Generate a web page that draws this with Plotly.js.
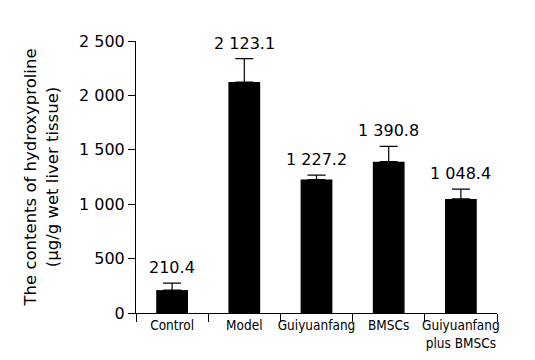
<!DOCTYPE html>
<html><head><meta charset="utf-8">
<script src="https://cdn.plot.ly/plotly-3.0.1.min.js"></script>
<style>html,body{margin:0;padding:0;background:#fff}#chart{width:535px;height:360px}</style>
</head><body><div id="chart"></div>
<script>
const categories = ["Control", "Model", "Guiyuanfang", "BMSCs", "Guiyuanfang<br>plus BMSCs"];
const values = [210.4, 2123.1, 1227.2, 1390.8, 1048.4];
const errors = [65, 215, 40, 140, 90];
const labels = ["210.4", "2 123.1", "1 227.2", "1 390.8", "1 048.4"];

const trace = {
  type: "bar", x: categories, y: values, width: 0.44,
  marker: {color: "#000"},
  error_y: {type: "data", array: errors, symmetric: false, arrayminus: errors.map(()=>0), color: "#000", thickness: 1.2, width: 9, visible: true}
};
const annotations = categories.map((c,i)=>({
  x: c, y: values[i] + errors[i], xref: "x", yref: "y", text: labels[i], showarrow: false,
  yanchor: "bottom", yshift: 4, font: {family: "DejaVu Sans", size: 16, color: "#000"}
}));
Plotly.newPlot("chart", [trace], {
  width: 535, height: 360, margin: {l: 136, r: 38, t: 41, b: 47},
  paper_bgcolor: "#fff", plot_bgcolor: "#fff", showlegend: false,
  separators: ". ",
  font: {family: "DejaVu Sans", color: "#000"},
  xaxis: {showline: true, linecolor: "#000", linewidth: 1, ticks: "outside", ticklen: 8, tickcolor: "#000", tickangle: 0,
    tickson: "boundaries", tickfont: {family: "DejaVu Sans Condensed", size: 13.5}, showgrid: false, zeroline: false},
  yaxis: {range: [0, 2500], tickvals: [0, 500, 1000, 1500, 2000, 2500], tickformat: ",", showline: true, linecolor: "#000", linewidth: 1,
    ticks: "outside", ticklen: 7, tickcolor: "#000", tickfont: {family: "DejaVu Sans", size: 16}, showgrid: false, zeroline: false,
    title: {text: "The contents of hydroxyproline<br>(μg/g wet liver tissue)", font: {family: "DejaVu Sans", size: 16.5}, standoff: 16}},
  annotations: annotations
}, {staticPlot: true});
</script></body></html>
